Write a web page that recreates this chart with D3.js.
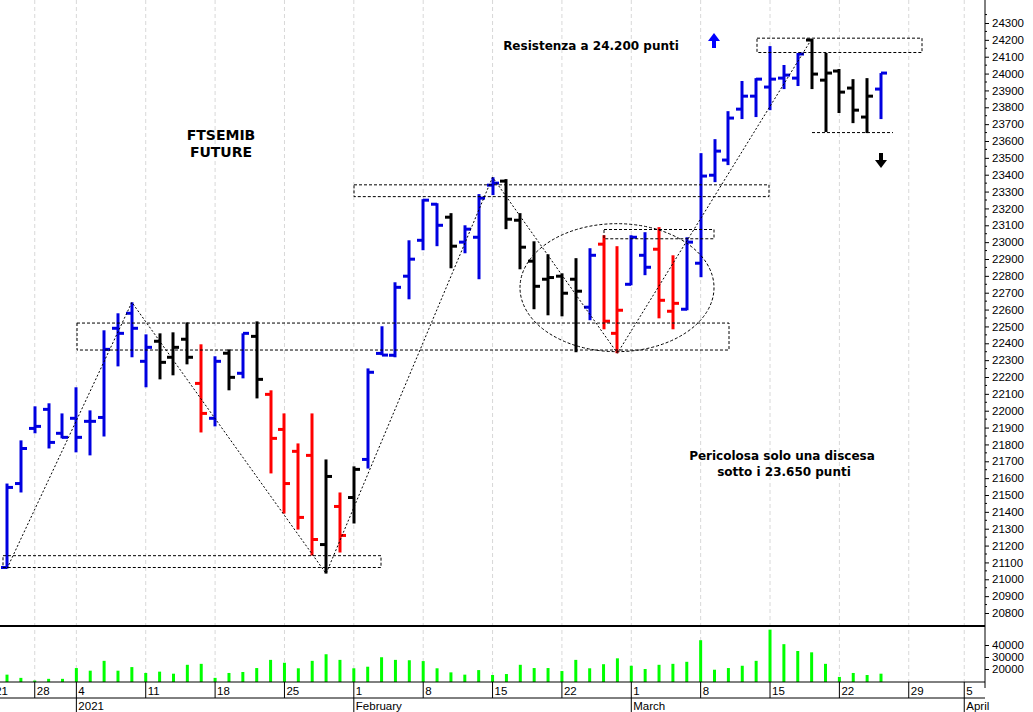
<!DOCTYPE html>
<html><head><meta charset="utf-8">
<script src="https://cdn.jsdelivr.net/npm/d3@7"></script>
<style>body{margin:0;background:#fff}svg{display:block;font-family:Arial,"Liberation Sans",sans-serif}</style>
</head><body><div id="chart"></div>
<script>
// OHLC per trading day, index 1 = first visible bar
var opens  = [21070,21568,21895,22008,21866,21955,21937,21960,22489,22578,22293,22412,22317,22424,22162,21955,22341,22222,22441,22097,21889,21759,21735,21206,21432,21485,21711,22340,22329,22798,23011,23225,23148,23000,23029,23338,23362,23130,22887,22780,22798,22780,22614,22988,22459,22750,22922,22958,22590,22602,22875,23397,23487,23789,23866,23920,23973,23973,24199,23961,24015,23914,23742,23908]
var highs  = [21568,21824,22026,22044,21984,22139,22002,22477,22578,22643,22453,22459,22465,22524,22394,22323,22364,22459,22530,22121,21984,21806,21984,21711,21515,21670,22251,22501,22762,23011,23255,23231,23172,23100,23285,23385,23374,23172,23005,22928,22815,22905,22964,23041,22976,23041,23059,23089,22922,23029,23528,23611,23777,23956,23973,24163,24051,24122,24205,24122,24027,23967,23973,24003]
var lows   = [21064,21515,21866,21776,21836,21753,21735,21847,22263,22317,22139,22186,22210,22275,21871,21907,22121,22192,22073,21628,21390,21295,21141,21034,21159,21331,21657,22329,22317,22661,22952,22976,22845,22934,22780,23279,23077,22839,22602,22566,22560,22347,22537,22483,22341,22744,22804,22548,22483,22596,22792,23356,23457,23730,23742,23783,23908,23926,23908,23653,23766,23706,23647,23730]
var closes = [21545,21776,21907,21812,21842,21842,21937,22364,22459,22489,22376,22287,22376,22317,21984,22293,22198,22459,22186,21836,21568,21367,21236,21610,21260,21652,22228,22330,22732,22899,23249,23100,22976,23077,23261,23350,23136,22970,22738,22790,22697,22709,22922,22531,22596,23029,22851,22655,22637,23000,23392,23540,23736,23866,23967,23967,23991,24116,23997,24003,23890,23783,23866,24003]
var colors = ['b','b','b','b','b','b','b','b','b','b','b','k','k','k','r','b','k','b','k','r','r','r','r','k','r','k','b','b','b','b','b','b','k','b','b','b','k','k','k','k','k','k','b','r','r','b','b','r','r','b','b','b','b','b','b','b','b','b','k','k','k','k','k','b']
var volumes = [15300,12600,10400,11800,11800,20800,18600,26800,18600,21600,16700,17800,16100,23500,24300,12600,16700,17500,20800,27600,25200,20600,26800,32300,27600,20600,21900,29800,27600,27300,26600,20600,17200,15300,19100,15000,15800,23500,20800,20800,18300,27600,20600,24000,28900,22700,20000,23500,24300,26000,44000,19400,20800,22700,26800,52800,40700,35000,33900,24300,13400,16700,15000,16100]
// week ticks: trading-day index and label
var weekIdx = [0,3,6,11,16,21,26,31,36,41,46,51,56,61,66,70]
var weekLbl = ['21','28','4','11','18','25','1','8','15','22','1','8','15','22','29','5']
var monthIdx = [6,26,46,70]
var monthLbl = ['2021','February','March','April']
var priceTicks = d3.range(20800, 24301, 100)
var volTicks = [20000,30000,40000]

var W = 1033, H = 712, axisX = 985
var colMap = {b:'#0000e0', k:'#000', r:'#ff0000'}
var svg = d3.select('#chart').append('svg').attr('width', W).attr('height', H)

var x = d3.scaleLinear().domain([1, 64]).range([7, 881])
var y = d3.scaleLinear().domain([20800, 24300]).range([613, 23])
var yv = d3.scaleLinear().domain([20000, 40000]).range([669, 645])

// grid
svg.selectAll('.vg').data(weekIdx).enter().append('line')
  .attr('x1', d => x(d)).attr('x2', d => x(d)).attr('y1', 0).attr('y2', 682)
  .attr('stroke', '#d8d8d8').attr('stroke-dasharray', '4,3')

// OHLC bars
var g = svg.append('g')
var idx = d3.range(1, 65)
idx.forEach(function(i) {
  var c = colMap[colors[i-1]], xx = Math.round(x(i))
  g.append('line').attr('x1', xx).attr('x2', xx).attr('y1', y(highs[i-1])).attr('y2', y(lows[i-1]))
    .attr('stroke', c).attr('stroke-width', 3)
  g.append('line').attr('x1', xx - 6).attr('x2', xx).attr('y1', y(opens[i-1])).attr('y2', y(opens[i-1]))
    .attr('stroke', c).attr('stroke-width', 3)
  g.append('line').attr('x1', xx).attr('x2', xx + 6).attr('y1', y(closes[i-1])).attr('y2', y(closes[i-1]))
    .attr('stroke', c).attr('stroke-width', 3)
})

// annotations (dashed boxes, ellipse, trend lines)
var ann = svg.append('g').attr('fill', 'none').attr('stroke', '#000').attr('stroke-width', 1).attr('stroke-dasharray', '3,2')
var boxes = [[77,22520,729,22360],[3,21140,381,21070],[354,23340,769,23270],[604,23075,714,23020],[757,24210,922,24125]]
boxes.forEach(function(b) {
  ann.append('rect').attr('x', b[0]).attr('y', y(b[1])).attr('width', b[2]-b[0]).attr('height', y(b[3])-y(b[1]))
})
ann.append('ellipse').attr('cx', 617).attr('cy', y(22730)).attr('rx', 97).attr('ry', 64)
ann.append('line').attr('x1', 812).attr('x2', 893).attr('y1', y(23650)).attr('y2', y(23650))
var zig = [[1,21064],[10,22643],[24,21034],[36,23385],[45,22341],[59,24205]]
ann.append('path').attr('stroke-dasharray', '2,2')
  .attr('d', d3.line().x(d => x(d[0])).y(d => y(d[1]))(zig))

// texts
function txt(t, xx, yy, anchor) {
  svg.append('text').attr('x', xx).attr('y', yy).attr('text-anchor', anchor || 'middle')
    .attr('font-family', 'Verdana, "DejaVu Sans", sans-serif').attr('font-weight', 'bold').attr('font-size', 12).text(t)
}
txt('Resistenza a 24.200 punti', 591, 50)
svg.append('text').attr('x', 221).attr('y', 140).attr('text-anchor', 'middle').attr('font-family', 'Verdana, "DejaVu Sans", sans-serif').attr('font-weight', 'bold').attr('font-size', 14).text('FTSEMIB')
svg.append('text').attr('x', 221).attr('y', 157).attr('text-anchor', 'middle').attr('font-family', 'Verdana, "DejaVu Sans", sans-serif').attr('font-weight', 'bold').attr('font-size', 14).text('FUTURE')
txt('Pericolosa solo una discesa', 782, 460)
txt('sotto i 23.650 punti', 784, 476)
svg.append('path').attr('d', 'M714,33 L708,41 L712,41 L712,48 L716,48 L716,41 L720,41 Z').attr('fill', '#0000ff')
svg.append('path').attr('d', 'M881,168 L875,160 L879,160 L879,153 L883,153 L883,160 L887,160 Z').attr('fill', '#000')

// volume
svg.append('line').attr('x1', 0).attr('x2', axisX).attr('y1', 626).attr('y2', 626).attr('stroke', '#000').attr('stroke-width', 2)
svg.selectAll('.vb').data(idx).enter().append('line')
  .attr('x1', d => x(d)).attr('x2', d => x(d)).attr('y1', 682).attr('y2', d => yv(volumes[d-1]))
  .attr('stroke', '#00ff00').attr('stroke-width', 3)

// price axis
svg.append('line').attr('x1', axisX).attr('x2', axisX).attr('y1', 0).attr('y2', 688).attr('stroke', '#000')
var ya = svg.append('g').attr('transform', 'translate(' + axisX + ',0)')
  .call(d3.axisRight(y).tickValues(priceTicks).tickFormat(d3.format('d')).tickSize(4).tickPadding(3))
ya.select('.domain').remove()
ya.selectAll('text').attr('font-size', 11.5).attr('font-family', 'Arial, "Liberation Sans"')
svg.append('g').selectAll('line').data(d3.range(20850, 24400, 100)).enter().append('line')
  .attr('x1', axisX).attr('x2', axisX + 2).attr('y1', d => y(d)).attr('y2', d => y(d)).attr('stroke', '#000')
var va = svg.append('g').attr('transform', 'translate(' + axisX + ',0)')
  .call(d3.axisRight(yv).tickValues(volTicks).tickFormat(d3.format('d')).tickSize(4).tickPadding(3))
va.select('.domain').remove()
va.selectAll('text').attr('font-size', 11.5).attr('font-family', 'Arial, "Liberation Sans"')

// date axis
svg.append('line').attr('x1', 0).attr('x2', axisX).attr('y1', 682).attr('y2', 682).attr('stroke', '#000')
svg.append('line').attr('x1', 0).attr('x2', axisX).attr('y1', 698).attr('y2', 698).attr('stroke', '#000')
weekIdx.forEach(function(d, i) {
  svg.append('line').attr('x1', x(d)).attr('x2', x(d)).attr('y1', 682).attr('y2', 698).attr('stroke', '#000')
  svg.append('text').attr('x', x(d) + 2).attr('y', 695).attr('font-size', 11.5).attr('font-family', 'Arial, "Liberation Sans"').text(weekLbl[i])
})
monthIdx.forEach(function(d, i) {
  svg.append('line').attr('x1', x(d)).attr('x2', x(d)).attr('y1', 698).attr('y2', 712).attr('stroke', '#000')
  svg.append('text').attr('x', x(d) + 2).attr('y', 710).attr('font-size', 11.5).attr('font-family', 'Arial, "Liberation Sans"').text(monthLbl[i])
})
</script></body></html>
